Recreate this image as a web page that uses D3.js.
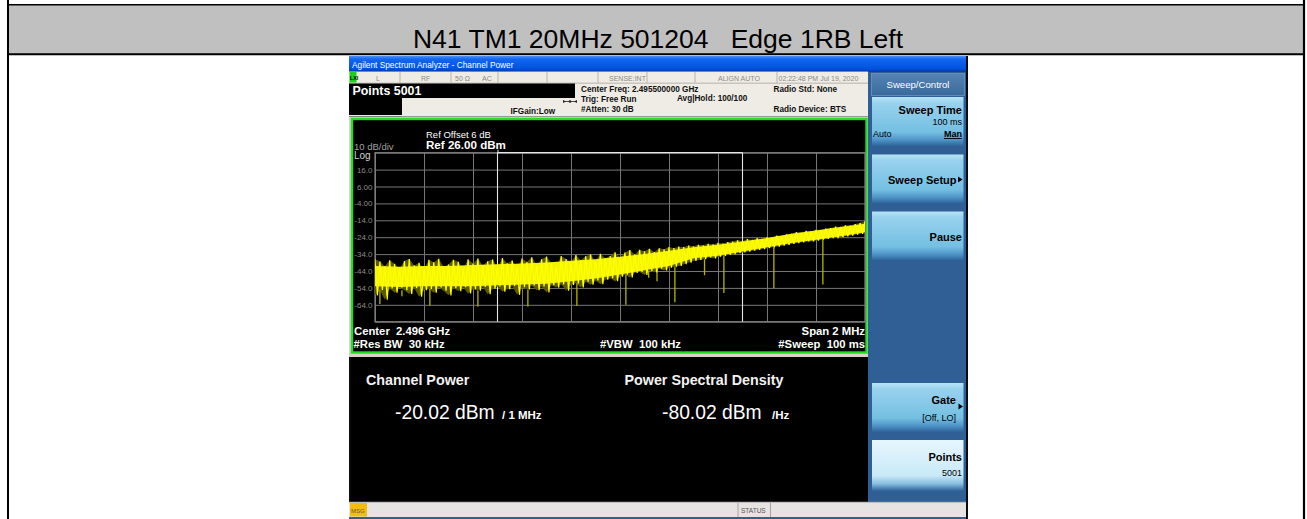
<!DOCTYPE html>
<html><head><meta charset="utf-8">
<script src="https://cdn.jsdelivr.net/npm/d3@7"></script>
<style>
body{margin:0;background:#fff;}
svg{display:block;font-family:"Liberation Sans",Arial,Helvetica,sans-serif;}
text{white-space:pre;}
</style></head><body>
<svg id="c" width="1307" height="519"></svg>
<script>
// ---------------- data ----------------
const pageTitle = "N41 TM1 20MHz 501204   Edge 1RB Left";
const centerMHz = 2495.5;          // Center Freq 2.495500000 GHz
const spanMHz = 2;                 // Span 2 MHz
const refLevel = 26;               // Ref 26.00 dBm
const dBperDiv = 10;
const nDivY = 10;
const nDivX = 10;
const chanBWMHz = 1;               // integration bandwidth (1 MHz)
const yTickValues = [16, 6, -4, -14, -24, -34, -44, -54, -64];
const yTickLabels = ["16.0", "6.00", "-4.00", "-14.0", "-24.0", "-34.0", "-44.0", "-54.0", "-64.0"];

// trace envelope, one value every 0.02 MHz from the left edge of the span
const traceStepMHz = 0.02;
const traceHi = [
  -37, -38.4, -41.2, -37.6, -39.8, -42.5, -38.1, -36.9, -40.7, -39.2, -43.1,
  -37.4, -38.9, -36.8, -41.5, -40.2, -37.3, -38.6, -42.8, -37.1, -39.6,
  -36.7, -40.8, -38.3, -37.2, -41.9, -36.4, -39.5, -37.8, -42.2, -36.6,
  -38.7, -35.9, -40.6, -37.1, -35.5, -39.3, -41.2, -35.2, -36.9, -38.8,
  -34.6, -37.7, -35.3, -34.1, -38.2, -33.8, -36.4, -35.1, -32.9, -36.3,
  -33.1, -31.6, -34.2, -31.4, -32.3, -30.9, -32.8, -30.6, -31.2, -29.8,
  -30.5, -29.6, -29.8, -28.9, -29.4, -28.5, -28.8, -27.9, -28.3, -27.4,
  -27.8, -26.9, -26.6, -25.8, -26.3, -25.2, -25.6, -24.6, -25, -23.9,
  -24.2, -23.1, -23.3, -22.4, -22, -21, -21.4, -20.3, -20.6, -19.6,
  -19.8, -18.9, -18.6, -17.8, -17.9, -17, -17.1, -16.2, -15.6, -14.5
];
const traceLo = [
  -58.5, -55.2, -61, -54.3, -56.8, -53.9, -55.4, -57.6, -54.1, -59.2, -55.3,
  -54.6, -56.9, -53.8, -55.7, -58.4, -54.2, -55.9, -53.6, -57.3, -54.8,
  -55.6, -53.4, -57.8, -54.5, -53.1, -56.2, -54.7, -52.9, -58.1, -53.6,
  -54.9, -52.6, -55.4, -53.2, -56.7, -52.4, -53.8, -51.9, -55.6, -52.2,
  -51.3, -53.7, -50.4, -52.1, -49.6, -51.8, -49.2, -48.3, -50.1, -47.4,
  -46.2, -47.8, -45.1, -44.6, -46.3, -43.9, -44.8, -42.6, -43.7, -42,
  -41.5, -41, -40, -39, -38, -37.5, -37, -36, -36.5, -35.5,
  -35, -34.5, -34, -33.5, -33, -32.5, -32, -31.5, -31, -30.5,
  -30, -29.5, -29, -28.5, -28, -27.5, -27, -26.5, -26.5, -26,
  -25.5, -25, -24.5, -24.5, -24, -23.5, -23, -22.5, -22, -21
];
// dense core of the trace, one value every 0.1 MHz
const coreStepMHz = 0.1;
const coreTop = [-41, -41.5, -41, -41, -40.5, -40, -39.5, -39, -38, -37, -35.5, -34, -32, -30, -28.5, -26.5, -24.5, -22, -20, -18, -16];
const coreBottom = [-53, -53.5, -53, -53, -53, -52.5, -52, -51.5, -50, -48.5, -46, -43.5, -41, -36.5, -35, -32.5, -30, -27.5, -25.5, -23.5, -21];
// narrow notches in the trace: offset from centre (MHz) and depth (dBm)
const dipOffsetMHz = [-0.98, -0.89, -0.776, -0.58, -0.376, -0.176, 0.024, 0.117, 0.151, 0.224, 0.345, 0.424, 0.628, 0.828];
const dipLevel     = [-63.5, -59, -64.5, -65, -65, -64.5, -64, -48, -50, -62.5, -46.5, -57, -54, -52];

const channelPower = "-20.02 dBm";
const channelPowerUnit = "/ 1 MHz";
const psd = "-80.02 dBm";
const psdUnit = "/Hz";

// ---------------- drawing ----------------
const svg = d3.select("#c");
const defs = svg.append("defs");
function grad(id, stops) {
  const g = defs.append("linearGradient").attr("id", id).attr("x1", 0).attr("y1", 0).attr("x2", 0).attr("y2", 1);
  stops.forEach(s => g.append("stop").attr("offset", s[0]).attr("stop-color", s[1]));
}
grad("tbar", [[0, "#4d8ff5"], [0.2, "#1366f0"], [0.8, "#0053e0"], [1, "#003cb0"]]);
grad("btn", [[0, "#b8e4f6"], [0.12, "#98d2ee"], [0.72, "#74bfe2"], [0.88, "#4d92c6"], [1, "#2c6298"]]);
grad("btnL", [[0, "#e6f6fd"], [0.7, "#c9e9f7"], [0.86, "#86bddf"], [1, "#2c6298"]]);
grad("hdr", [[0, "#5584b4"], [1, "#3a699c"]]);

// ---- outer document table ----
svg.append("rect").attr("x", 8).attr("y", 5).attr("width", 1296).attr("height", 49).attr("fill", "#c0c0c0");
svg.append("line").attr("x1", 7).attr("x2", 1305).attr("y1", 4.7).attr("y2", 4.7).attr("stroke", "#000").attr("stroke-width", 1.6);
svg.append("line").attr("x1", 7).attr("x2", 1305).attr("y1", 54.3).attr("y2", 54.3).attr("stroke", "#000").attr("stroke-width", 2);
svg.append("line").attr("x1", 8).attr("x2", 8).attr("y1", 0).attr("y2", 519).attr("stroke", "#000").attr("stroke-width", 2);
svg.append("line").attr("x1", 1304).attr("x2", 1304).attr("y1", 0).attr("y2", 519).attr("stroke", "#000").attr("stroke-width", 2.2);
svg.append("text").attr("x", 658).attr("y", 48).attr("text-anchor", "middle")
  .attr("font-size", 26.5).attr("fill", "#000").text(pageTitle);

// ---- screenshot frame ----
const S = svg.append("g");
S.append("rect").attr("x", 349).attr("y", 56).attr("width", 619).attr("height", 463).attr("fill", "#0c0c0c");
// title bar
S.append("rect").attr("x", 349).attr("y", 56).attr("width", 617).attr("height", 15.5).attr("fill", "url(#tbar)");
S.append("text").attr("x", 352).attr("y", 67.5).attr("font-size", 8.3).attr("fill", "#fff")
  .text("Agilent Spectrum Analyzer - Channel Power");
// status row
S.append("rect").attr("x", 349).attr("y", 71.5).attr("width", 519).attr("height", 12).attr("fill", "#efece5");
[400, 451, 498, 547, 598, 647, 695, 777].forEach(xx =>
  S.append("line").attr("x1", xx).attr("x2", xx).attr("y1", 72).attr("y2", 83).attr("stroke", "#b8b4ac"));
S.append("line").attr("x1", 349).attr("x2", 868).attr("y1", 83).attr("y2", 83).attr("stroke", "#c8c4bc");
S.append("rect").attr("x", 349.5).attr("y", 72).attr("width", 7).attr("height", 10.5).attr("fill", "#19d219");
S.append("text").attr("x", 350).attr("y", 80).attr("font-size", 5.2).attr("font-weight", "bold").attr("fill", "#000").text("LXI");
const st = [["L", 376], ["RF", 421], ["50 Ω", 455], ["AC", 482], ["SENSE:INT", 609], ["ALIGN AUTO", 718], ["02:22:48 PM Jul 19, 2020", 778.5]];
st.forEach(s => S.append("text").attr("x", s[1]).attr("y", 80.5).attr("font-size", 7).attr("fill", "#8a8a8a").text(s[0]));
// info area
S.append("rect").attr("x", 349).attr("y", 83.5).attr("width", 519).attr("height", 33).attr("fill", "#efece5");
S.append("rect").attr("x", 349).attr("y", 83.5).attr("width", 226).attr("height", 14.5).attr("fill", "#000");
S.append("rect").attr("x", 349).attr("y", 98).attr("width", 53).attr("height", 17).attr("fill", "#000");
S.append("text").attr("x", 352.5).attr("y", 95).attr("font-size", 12.4).attr("font-weight", "bold").attr("fill", "#fff").text("Points 5001");
S.append("line").attr("x1", 402).attr("x2", 868).attr("y1", 116.5).attr("y2", 116.5).attr("stroke", "#9a968e").attr("stroke-width", 1.2);
const info = [["IFGain:Low", 510.5, 113.5], ["Center Freq: 2.495500000 GHz", 581, 92], ["Trig: Free Run", 581, 101.5],
  ["#Atten: 30 dB", 581, 111.5], ["Avg|Hold: 100/100", 677, 101], ["Radio Std: None", 773.5, 91.5], ["Radio Device: BTS", 773.5, 111.5]];
info.forEach(s => S.append("text").attr("x", s[1]).attr("y", s[2]).attr("font-size", 8.2).attr("font-weight", "bold").attr("fill", "#111").text(s[0]));
// trigger arrow
S.append("line").attr("x1", 563).attr("x2", 577).attr("y1", 101.5).attr("y2", 101.5).attr("stroke", "#222").attr("stroke-width", 0.8);
S.append("path").attr("d", "M566,101.5 l-3,-1.6 v3.2z M574,101.5 l3,-1.6 v3.2z").attr("fill", "#222");
S.append("circle").attr("cx", 570).attr("cy", 101.5).attr("r", 1.3).attr("fill", "#222");

// graph panel
S.append("rect").attr("x", 349).attr("y", 117).attr("width", 519).attr("height", 240).attr("fill", "#d6d2ca");
S.append("rect").attr("x", 352).attr("y", 119).attr("width", 514.5).attr("height", 233.5)
  .attr("fill", "#000").attr("stroke", "#1fe01f").attr("stroke-width", 2.4);

const px0 = 375, px1 = 865, py0 = 152.7, py1 = 321.7;
const x = d3.scaleLinear().domain([centerMHz - spanMHz / 2, centerMHz + spanMHz / 2]).range([px0, px1]);
const y = d3.scaleLinear().domain([refLevel - nDivY * dBperDiv, refLevel]).range([py1, py0]);

const G = S.append("g");
// vertical grid
const xGridVals = d3.range(nDivX + 1).map(k => x.domain()[0] + k * spanMHz / nDivX);
G.append("g").attr("transform", `translate(0,${py1})`)
  .call(d3.axisBottom(x).tickValues(xGridVals).tickSize(-(py1 - py0)).tickFormat(""))
  .call(g => g.select(".domain").remove())
  .call(g => g.selectAll("line").attr("stroke", "#777").attr("stroke-width", 1));
// horizontal grid + labels
const yGridVals = d3.range(nDivY + 1).map(k => refLevel - k * dBperDiv);
G.append("g").attr("transform", `translate(${px0},0)`)
  .call(d3.axisLeft(y).tickValues(yGridVals).tickSize(-(px1 - px0)).tickFormat(""))
  .call(g => g.select(".domain").remove())
  .call(g => g.selectAll("line").attr("stroke", "#777").attr("stroke-width", 1));
G.append("g").attr("transform", `translate(${px0},0)`)
  .call(d3.axisLeft(y).tickValues(yTickValues).tickSize(0).tickPadding(2.5).tickFormat((d, i) => yTickLabels[i]))
  .call(g => g.select(".domain").remove())
  .call(g => g.selectAll("text").attr("fill", "#8c8c8c").attr("font-size", 8).attr("font-family", "Liberation Sans, Arial, sans-serif"));
G.append("rect").attr("x", px0).attr("y", py0).attr("width", px1 - px0).attr("height", py1 - py0)
  .attr("fill", "none").attr("stroke", "#808080").attr("stroke-width", 1.2);
// integration bandwidth markers
const cL = x(centerMHz - chanBWMHz / 2), cR = x(centerMHz + chanBWMHz / 2);
[cL, cR].forEach(xx => G.append("line").attr("x1", xx).attr("x2", xx).attr("y1", py0).attr("y2", py1).attr("stroke", "#e6e6e6").attr("stroke-width", 1.1));
G.append("line").attr("x1", cL).attr("x2", cR).attr("y1", py0).attr("y2", py0).attr("stroke", "#e6e6e6").attr("stroke-width", 1.3);
G.append("line").attr("x1", cL + 0.5).attr("x2", cL + 0.5).attr("y1", py0 - 3).attr("y2", py0).attr("stroke", "#e6e6e6");

// trace
defs.append("clipPath").attr("id", "plotclip").append("rect").attr("x", px0).attr("y", py0).attr("width", px1 - px0).attr("height", py1 - py0);
const T = G.append("g").attr("clip-path", "url(#plotclip)");
const f0 = centerMHz - spanMHz / 2;
const band = traceHi.map((h, i) => ({ f: f0 + i * traceStepMHz, hi: h, lo: traceLo[i] }));
T.append("path").datum(band)
  .attr("d", d3.area().x(d => x(d.f)).y0(d => y(d.lo)).y1(d => y(d.hi)))
  .attr("fill", "#5c5a00");
const core = coreTop.map((t, k) => ({ f: f0 + k * coreStepMHz, t: t, b: coreBottom[k] }));
T.append("path").datum(core)
  .attr("d", d3.area().x(d => x(d.f)).y0(d => y(d.b)).y1(d => y(d.t)))
  .attr("fill", "#f4f400");
// dips
dipOffsetMHz.forEach((o, j) => {
  const f = centerMHz + o;
  const idx = Math.round((f - f0) / traceStepMHz);
  T.append("line").attr("x1", x(f)).attr("x2", x(f)).attr("y1", y(traceLo[idx])).attr("y2", y(dipLevel[j]))
    .attr("stroke", "#b9b400").attr("stroke-width", 1.3);
});
// peak/pit zigzag of the detector
const zig = [];
band.forEach(d => { zig.push([x(d.f), y(d.hi)]); zig.push([x(d.f + traceStepMHz / 2), y(d.lo)]); });
T.append("path").attr("d", d3.line()(zig)).attr("fill", "none").attr("stroke", "#ffff00").attr("stroke-width", 1.2);

// graph annotations
G.append("text").attr("x", 354).attr("y", 149.5).attr("font-size", 9.5).attr("fill", "#a0a0a0").text("10 dB/div");
G.append("text").attr("x", 354).attr("y", 158.5).attr("font-size", 10).attr("fill", "#d0d0d0").text("Log");
G.append("text").attr("x", 426).attr("y", 137.5).attr("font-size", 9.5).attr("fill", "#fff").text("Ref Offset 6 dB");
G.append("text").attr("x", 426).attr("y", 149).attr("font-size", 11.6).attr("font-weight", "bold").attr("fill", "#fff").text("Ref " + refLevel.toFixed(2) + " dBm");
const bl = [["Center  2.496 GHz", 354, 334.5, "start"], ["#Res BW  30 kHz", 353.5, 347.5, "start"], ["#VBW  100 kHz", 600, 347.5, "start"],
  ["Span " + spanMHz + " MHz", 865, 334.5, "end"], ["#Sweep  100 ms", 865, 347.5, "end"]];
bl.forEach(s => G.append("text").attr("x", s[1]).attr("y", s[2]).attr("text-anchor", s[3]).attr("font-size", 11.3).attr("font-weight", "bold").attr("fill", "#fff").text(s[0]));

// measurement panel
S.append("rect").attr("x", 351).attr("y", 357).attr("width", 517).attr("height", 144).attr("fill", "#000");
S.append("text").attr("x", 366).attr("y", 384.5).attr("font-size", 14.3).attr("font-weight", "bold").attr("fill", "#f2f2f2").text("Channel Power");
S.append("text").attr("x", 624.5).attr("y", 384.5).attr("font-size", 14.3).attr("font-weight", "bold").attr("fill", "#f2f2f2").text("Power Spectral Density");
S.append("text").attr("x", 395).attr("y", 419).attr("font-size", 19.3).attr("fill", "#fff").text(channelPower);
S.append("text").attr("x", 502).attr("y", 419).attr("font-size", 11.5).attr("font-weight", "bold").attr("fill", "#fff").text(channelPowerUnit);
S.append("text").attr("x", 662).attr("y", 419).attr("font-size", 19.3).attr("fill", "#fff").text(psd);
S.append("text").attr("x", 772).attr("y", 419).attr("font-size", 11.5).attr("font-weight", "bold").attr("fill", "#fff").text(psdUnit);

// right soft-key panel
S.append("rect").attr("x", 868).attr("y", 71.5).attr("width", 98).attr("height", 431).attr("fill", "#2f5f94");
S.append("rect").attr("x", 871.5).attr("y", 73.5).attr("width", 93).attr("height", 22).attr("fill", "url(#hdr)").attr("stroke", "#6e94bd").attr("stroke-width", 0.8);
S.append("text").attr("x", 918).attr("y", 88).attr("text-anchor", "middle").attr("font-size", 9.6).attr("fill", "#fff").text("Sweep/Control");
const btns = [[97, 49, "btn"], [154.5, 49, "btn"], [211.5, 49, "btn"], [383, 49, "btn"], [440, 51, "btnL"]];
btns.forEach(b => S.append("rect").attr("x", 872).attr("y", b[0]).attr("width", 91.5).attr("height", b[1]).attr("fill", `url(#${b[2]})`));
function bt(t, xx, yy, sz, w, anchor) {
  return S.append("text").attr("x", xx).attr("y", yy).attr("font-size", sz).attr("font-weight", w).attr("text-anchor", anchor || "end").attr("fill", "#000").text(t);
}
bt("Sweep Time", 962, 114, 11, "bold");
bt("100 ms", 962, 125, 9, "normal");
bt("Auto", 873, 136.5, 9, "normal", "start");
bt("Man", 962, 136.5, 9, "bold");
S.append("line").attr("x1", 944).attr("x2", 962).attr("y1", 138.5).attr("y2", 138.5).attr("stroke", "#000").attr("stroke-width", 0.9);
bt("Sweep Setup", 956.5, 183.5, 11, "bold");
S.append("path").attr("d", "M958,176.5 l4.5,3 l-4.5,3z").attr("fill", "#000");
bt("Pause", 962, 240.5, 11, "bold");
bt("Gate", 956, 403.5, 11, "bold");
S.append("path").attr("d", "M958.5,403.5 l4.5,3 l-4.5,3z").attr("fill", "#000");
bt("[Off, LO]", 956, 420.5, 9, "normal");
bt("Points", 962, 461, 11, "bold");
bt("5001", 962, 475.5, 9, "normal");

// bottom status bar
S.append("rect").attr("x", 349).attr("y", 502).attr("width", 617).attr("height", 15).attr("fill", "#e7e3e3");
S.append("line").attr("x1", 349).attr("x2", 966).attr("y1", 502.3).attr("y2", 502.3).attr("stroke", "#b8b4b4");
S.append("rect").attr("x", 350).attr("y", 503).attr("width", 17).attr("height", 13.5).attr("fill", "#f4bd0c");
S.append("text").attr("x", 351).attr("y", 512.5).attr("font-size", 6).attr("fill", "#6a5a30").text("MSG");
[738, 770.5].forEach(xx => S.append("line").attr("x1", xx).attr("x2", xx).attr("y1", 503).attr("y2", 517).attr("stroke", "#a8a4a4"));
S.append("text").attr("x", 741).attr("y", 512.5).attr("font-size", 6.5).attr("fill", "#555").text("STATUS");
S.append("rect").attr("x", 349).attr("y", 517).attr("width", 617).attr("height", 2).attr("fill", "#2f5f94");
</script>
</body></html>
